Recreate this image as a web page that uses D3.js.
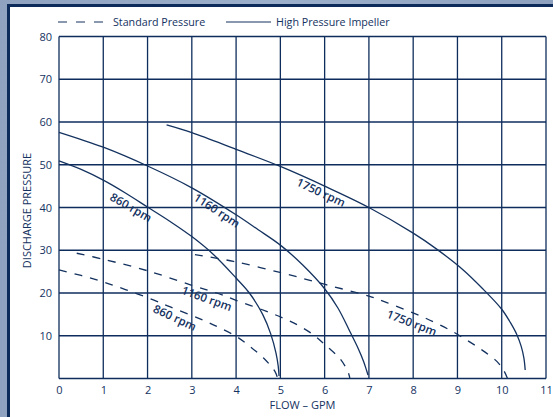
<!DOCTYPE html>
<html>
<head>
<meta charset="utf-8">
<script src="https://cdn.jsdelivr.net/npm/d3@7"></script>
<style>
  html, body { margin: 0; padding: 0; background: #95a9c6; }
  svg { display: block; }
  text { font-family: "Open Sans", "Noto Sans", sans-serif; fill: #14325f; }
</style>
</head>
<body>
<svg id="chart" width="553" height="417"></svg>
<script>
// ---- data (flow in GPM, discharge pressure) ----
const xTickValues = [0, 1, 2, 3, 4, 5, 6, 7, 8, 9, 10, 11];
const yTickValues = [0, 10, 20, 30, 40, 50, 60, 70, 80];
const yTickLabels = [10, 20, 30, 40, 50, 60, 70, 80];

const legendLabels = ["Standard Pressure", "High Pressure Impeller"];

// High pressure impeller (solid)
const hp860 = [[0,50.9],[0.5,48.9],[1,46.4],[1.5,43.4],[2,40.1],[2.5,36.8],[3,33.2],[3.5,28.9],[4,23.5],[4.3,20.0],[4.6,15.0],[4.78,10.5],[4.9,6.0],[4.95,3.0],[4.97,0.6]];
const hp1160 = [[0,57.6],[1,54.1],[2,49.7],[3,44.6],[4,38.3],[4.5,34.8],[5,31.2],[5.5,26.6],[6,21.0],[6.3,16.5],[6.57,11.0],[6.75,7.2],[6.88,4.0],[6.95,1.8],[6.98,0.8]];
const hp1750 = [[2.43,59.3],[3,57.5],[4,53.6],[5,49.6],[6,45.0],[7,40.0],[8,34.0],[8.5,30.5],[9.13,25.4],[9.58,20.9],[10.0,16.2],[10.2,13.0],[10.34,10.3],[10.44,7.5],[10.5,4.8],[10.53,2.0]];

// Standard pressure (dashed)
const sp860 = [[0,25.4],[0.5,24.1],[1,22.6],[1.5,20.8],[2.13,18.4],[2.5,16.8],[2.96,14.9],[3.33,13.3],[3.64,11.8],[4.01,9.8],[4.31,7.5],[4.62,4.8],[4.88,1.6],[4.93,0.3]];
const sp1160 = [[0.4,29.3],[1,27.9],[2,25.2],[3,21.8],[3.56,20.0],[4,18.3],[4.69,15.7],[5.07,14.1],[5.41,12.4],[5.75,10.2],[6.05,7.5],[6.35,4.6],[6.53,1.5],[6.57,0]];
const sp1750 = [[3.07,29.0],[3.94,27.4],[5.07,24.6],[6.05,21.9],[7.02,19.2],[7.42,17.7],[8.08,15.0],[8.49,13.1],[8.87,11.1],[9.21,9.0],[9.55,6.7],[9.89,4.0],[10.05,1.8],[10.13,0]];

const curveLabels = ["860 rpm", "1160 rpm", "1750 rpm", "860 rpm", "1160 rpm", "1750 rpm"];
// label anchor in data units and angle
const labelAnchors = [[1.63,40.1,30],[3.57,39.4,33],[5.92,43.6,25],[2.62,14.3,25],[3.34,18.8,20],[7.97,13.1,21]];

// ---- drawing ----
const navy = "#14325f";
const svg = d3.select("#chart");

const defs = svg.append("defs");
const grad = defs.append("linearGradient").attr("id","bg").attr("x1","0").attr("x2","1").attr("y1","0").attr("y2","0");
grad.append("stop").attr("offset","0").attr("stop-color","#8fa3c1");
grad.append("stop").attr("offset","0.5").attr("stop-color","#9db0cb");
grad.append("stop").attr("offset","1").attr("stop-color","#8ea2c0");
svg.append("rect").attr("width",553).attr("height",417).attr("fill","url(#bg)");

// white panel with dark frame
svg.append("rect").attr("x",7).attr("y",4).attr("width",560).attr("height",430).attr("fill","#0d2b5a");
svg.append("rect").attr("x",10).attr("y",7).attr("width",560).attr("height",430).attr("fill","#ffffff");

const x = d3.scaleLinear().domain([0, 11]).range([59, 546]);
const y = d3.scaleLinear().domain([0, 80]).range([378.5, 36.5]);

// grid
const grid = svg.append("g").attr("stroke", "#0f2d5c").attr("stroke-width", 1.3);
grid.selectAll("line.v").data(xTickValues).join("line")
  .attr("x1", d => x(d)).attr("x2", d => x(d))
  .attr("y1", y(80)).attr("y2", y(0));
grid.selectAll("line.h").data(yTickValues).join("line")
  .attr("x1", x(0)).attr("x2", x(11))
  .attr("y1", d => y(d)).attr("y2", d => y(d));

// axes labels via d3 axes (domain/ticks hidden, labels only)
const xAxis = svg.append("g").attr("transform", `translate(0,${y(0)})`)
  .call(d3.axisBottom(x).tickValues(xTickValues).tickSize(0).tickPadding(8).tickFormat(d3.format("d")));
xAxis.select(".domain").remove();
xAxis.selectAll("text").attr("font-size", 11).attr("fill", navy).attr("font-family", "Open Sans, Noto Sans, sans-serif");

const yAxis = svg.append("g").attr("transform", `translate(${x(0)},0)`)
  .call(d3.axisLeft(y).tickValues(yTickLabels).tickSize(0).tickPadding(7).tickFormat(d3.format("d")));
yAxis.select(".domain").remove();
yAxis.selectAll("text").attr("font-size", 11).attr("fill", navy).attr("font-family", "Open Sans, Noto Sans, sans-serif");

svg.append("text").attr("x", (x(0)+x(11))/2).attr("y", 408.5)
  .attr("text-anchor","middle").attr("font-size", 11).text("FLOW \u2013 GPM");
svg.append("text").attr("transform", `translate(31,${(y(0)+y(80))/2 + 3}) rotate(-90)`)
  .attr("text-anchor","middle").attr("font-size", 11).text("DISCHARGE PRESSURE");

// curves
const line = d3.line().x(d => x(d[0])).y(d => y(d[1])).curve(d3.curveCatmullRom.alpha(0.5));
const curves = svg.append("g").attr("fill","none").attr("stroke", navy).attr("stroke-width", 1.3);
[hp860, hp1160, hp1750].forEach(s => curves.append("path").attr("d", line(s)));
[sp860, sp1160, sp1750].forEach(s => curves.append("path").attr("d", line(s)).attr("stroke-dasharray","8,8"));

// curve labels
svg.append("g").selectAll("text").data(curveLabels).join("text")
  .attr("transform", (d,i) => `translate(${x(labelAnchors[i][0])},${y(labelAnchors[i][1])}) rotate(${labelAnchors[i][2]})`)
  .attr("text-anchor","middle").attr("dominant-baseline","central")
  .attr("font-size", 11.5).attr("font-weight", 600).text(d => d);

// legend
const lg = svg.append("g");
lg.append("line").attr("x1",58).attr("x2",103).attr("y1",22).attr("y2",22)
  .attr("stroke",navy).attr("stroke-width",1.2).attr("stroke-dasharray","9,9");
lg.append("text").attr("x",113).attr("y",26).attr("font-size",10.7).text(legendLabels[0]);
lg.append("line").attr("x1",226).attr("x2",271).attr("y1",22).attr("y2",22)
  .attr("stroke",navy).attr("stroke-width",1.2);
lg.append("text").attr("x",276).attr("y",26).attr("font-size",10.7).text(legendLabels[1]);
</script>
</body>
</html>
